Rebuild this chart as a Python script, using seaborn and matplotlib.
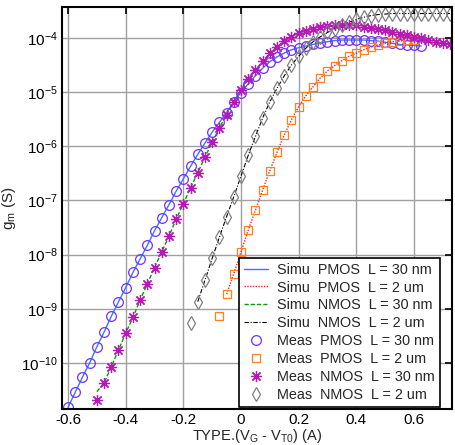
import matplotlib
matplotlib.use("Agg")
import matplotlib.pyplot as plt
import numpy as np
import pandas as pd
import seaborn as sns

#%% Data (x = TYPE.(VG - VT0), values are log10(gm))
x_p30 = np.round(np.arange(-0.6, 0.626, 0.025), 3)
log_p30 = [-10.82, -10.54, -10.26, -10.00, -9.70, -9.43, -9.14, -8.87, -8.61, -8.33,
           -8.08, -7.83, -7.56, -7.32, -7.08, -6.83, -6.60, -6.37, -6.15, -5.94,
           -5.74, -5.56, -5.38, -5.18, -5.01, -4.85, -4.70, -4.56, -4.44, -4.35,
           -4.28, -4.22, -4.18, -4.15, -4.12, -4.09, -4.07, -4.05, -4.04, -4.04,
           -4.04, -4.04, -4.05, -4.06, -4.08, -4.10, -4.12, -4.13, -4.14, -4.15]

x_n30 = np.round(np.arange(-0.5, 0.726, 0.025), 3)
log_n30 = [-10.69, -10.37, -10.07, -9.76, -9.45, -9.16, -8.84, -8.54, -8.24, -7.95,
           -7.66, -7.35, -7.06, -6.77, -6.49, -6.20, -5.93, -5.66, -5.42, -5.18,
           -4.96, -4.76, -4.59, -4.43, -4.28, -4.16, -4.06, -3.98, -3.91, -3.87,
           -3.83, -3.80, -3.78, -3.77, -3.76, -3.76, -3.77, -3.79, -3.81, -3.83,
           -3.86, -3.89, -3.92, -3.95, -3.98, -4.01, -4.04, -4.07, -4.10, -4.12]

x_p2 = np.round(np.arange(-0.075, 0.601, 0.025), 3)
log_p2 = [-9.13, -8.73, -8.35, -7.95, -7.55, -7.18, -6.81, -6.45, -6.11, -5.79,
          -5.51, -5.27, -5.07, -4.90, -4.74, -4.61, -4.51, -4.42, -4.34, -4.28,
          -4.22, -4.17, -4.13, -4.10, -4.07, -4.06, -4.04, -4.04]

x_n2 = np.round(np.arange(-0.175, 0.726, 0.025), 3)
log_n2 = [-9.27, -8.87, -8.47, -8.07, -7.68, -7.30, -6.93, -6.55, -6.17, -5.82,
          -5.48, -5.18, -4.93, -4.70, -4.50, -4.34, -4.19, -4.07, -3.98, -3.90,
          -3.83, -3.77, -3.71, -3.66, -3.62, -3.59, -3.57, -3.56, -3.55, -3.55,
          -3.55, -3.55, -3.55, -3.55, -3.55, -3.55, -3.55]

# Simulated curves
xs_p30 = x_p30
logs_p30 = log_p30
xs_n30 = x_n30
logs_n30 = [-10.53] + log_n30[1:]
xs_p2 = x_p2[1:]
logs_p2 = log_p2[1:]
xs_n2 = x_n2[1:]
logs_n2 = log_n2[1:]

labels_simu = ["Simu  PMOS  L = 30 nm", "Simu  PMOS  L = 2 um",
               "Simu  NMOS  L = 30 nm", "Simu  NMOS  L = 2 um"]
labels_meas = ["Meas  PMOS  L = 30 nm", "Meas  PMOS  L = 2 um",
               "Meas  NMOS  L = 30 nm", "Meas  NMOS  L = 2 um"]

#%% Figure
sns.set_theme(style="white")
plt.rcParams['font.family'] = ['Liberation Sans', 'DejaVu Sans']
plt.rcParams['mathtext.default'] = 'regular'

fig = plt.figure(figsize=(4.55, 4.45), dpi=100)
ax = fig.add_axes([62/455, 1 - 409/445, 390/455, 402/445])

simu = [(xs_p30, logs_p30, '#3a78ff', '-', 1.0),
        (xs_p2, logs_p2, '#ff2020', (0, (1, 1)), 1.0),
        (xs_n30, logs_n30, '#00a000', (0, (3, 1.5)), 1.0),
        (xs_n2, logs_n2, 'black', (0, (4, 1.5, 1, 1.5)), 0.8)]
for (x, lg, c, ls, lw), lab in zip(simu, labels_simu):
    sns.lineplot(x=x, y=10.0 ** np.array(lg), color=c, linestyle=ls,
                 linewidth=lw, label=lab, ax=ax, sort=False)

meas = [(x_p30, log_p30, '#7030ff', 'o', 7.0),
        (x_p2, log_p2, '#ff8020', 's', 6.0),
        (x_n30, log_n30, '#b818b8', (8, 2, 0), 8.0),
        (x_n2, log_n2, '#808080', 'd', 7.5)]
for (x, lg, c, m, ms), lab in zip(meas, labels_meas):
    sns.lineplot(x=x, y=10.0 ** np.array(lg), linestyle='', marker=m,
                 markersize=ms, markerfacecolor='none', markeredgecolor=c,
                 markeredgewidth=0.9, color=c, label=lab, ax=ax, sort=False)

ax.set_yscale('log')
ax.set_xlim(-0.621, 0.732)
ax.set_ylim(10 ** -10.85, 10 ** -3.43)
ax.set_xticks(np.arange(-0.6, 0.61, 0.2))
ax.set_xticklabels(['-0.6', '-0.4', '-0.2', '0', '0.2', '0.4', '0.6'])
ax.set_yticks([10.0 ** k for k in range(-10, -3)])
ax.set_yticklabels(['$10^{%d}$' % k for k in range(-10, -3)])
ax.yaxis.set_minor_locator(matplotlib.ticker.NullLocator())

ax.grid(True, color='#a0a0a0', linewidth=1.0)
ax.tick_params(direction='in', length=5, width=1.2, top=True, right=True,
               labelsize=11, colors='black', pad=3)
for s in ax.spines.values():
    s.set_color('black')
    s.set_linewidth(1.5)

ax.set_xlabel('TYPE.(V$_G$ - V$_{T0}$) (A)', fontsize=10.5, labelpad=0)
ax.set_ylabel('g$_m$ (S)', fontsize=11, labelpad=2)

leg = ax.legend(loc='lower right', bbox_to_anchor=(0.969, 0.005), borderaxespad=0,
                fontsize=10.4, frameon=True, fancybox=False, edgecolor='black',
                framealpha=1, handlelength=1.7, handletextpad=0.6,
                labelspacing=0.27, borderpad=0.35)
leg.get_frame().set_linewidth(1.2)

fig.savefig('out.png', dpi=100)
